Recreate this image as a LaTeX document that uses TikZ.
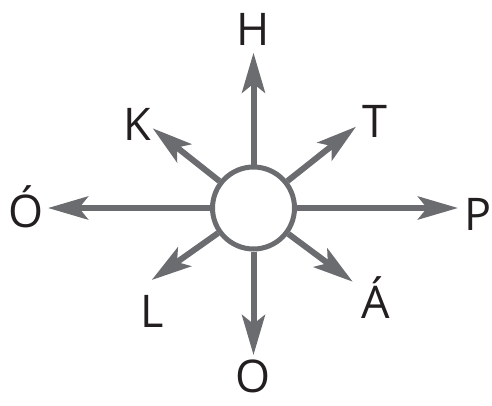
\documentclass[tikz,border=0pt]{standalone}
\usepackage{fontspec}
\setmainfont{Open Sans}
\usetikzlibrary{arrows.meta}
\definecolor{spokegray}{HTML}{6B6C70}
\definecolor{lblblack}{HTML}{231F20}

\begin{document}
\begin{tikzpicture}[x=1pt,y=-1pt,
  spoke/.style={draw=spokegray,line width=6pt,-{Stealth[length=40pt,width=23pt,inset=9pt]}},
  lbl/.style={anchor=base,font=\fontsize{45}{45}\selectfont,text=lblblack,inner sep=0pt}]
  \useasboundingbox (0,0) rectangle (492,405);
  \node[draw=spokegray,line width=5pt,circle,minimum size=82pt,inner sep=0pt] (c) at (253.5,208) {};
  % tips of the spokes
  \foreach \n/\x/\y in {h/253.5/52.7,t/356/126.7,p/458/208,a/352.7/281.7,o/253.5/355,l/151.7/280,oo/48/208,k/152.7/128.3}{
    \coordinate (tip-\n) at (\x,\y);
    \draw[spoke] (c) -- (tip-\n);
  }
  % letters
  \foreach \n/\x/\y/\s in {h/253/45/H,t/375/137/T,p/478/230/P,a/376/318/Á,o/253/392/O,l/152/327/L,oo/26/227/Ó,k/137/140/K}{
    \node[lbl] (lbl-\n) at (\x,\y) {\s};
  }
\end{tikzpicture}
\end{document}
